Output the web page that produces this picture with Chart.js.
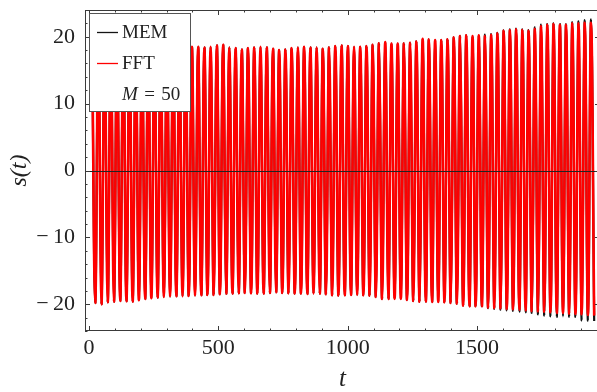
<!DOCTYPE html>
<html><head><meta charset="utf-8">
<script src="https://cdn.jsdelivr.net/npm/chart.js@4.4.1/dist/chart.umd.min.js"></script>
<style>
html,body{margin:0;padding:0;overflow:hidden;background:#fff;width:597px;height:392px}
#wrap{width:612px;height:392px;position:relative}
</style></head>
<body><div id="wrap"><canvas id="c" width="612" height="392"></canvas></div>
<script>
// ---- data ----
const cycle = 24.1;          // length of one oscillation in t
const firstPeakT = 12.45;    // t of first maximum
const firstTroughT = 24.5;   // t of first minimum

const fftPeaks = [19.8,19.6,19.4,19.2,19.0,18.9,18.8,18.7,18.7,18.6,18.6,18.5,18.5,18.5,18.4,18.4,
  18.5,18.5,
  18.4,18.5,18.7,18.8,18.4,18.3,18.1,18.3,18.4,18.5,18.4,18.2,18.0,18.1,18.3,18.4,18.5,18.4,18.4,18.2,18.4,18.6,18.7,18.6,18.5,18.5,18.6,18.8,19.0,19.2,
  19.0,19.0,19.0,19.1,19.3,19.7,19.6,19.5,19.5,19.6,19.9,20.1,20.2,20.1,20.2,20.1,20.3,20.5,20.9,21.0,21.1,21.0,20.9,21.2,21.6,21.8,21.9,21.8,21.8,22.0,22.0,22.1,22.1];
const memPeaks = [19.8,19.6,19.4,19.2,19.0,18.9,18.8,18.7,18.7,18.6,18.6,18.5,18.5,18.5,18.4,18.4,
  18.5,18.5,
  18.4,18.5,18.7,18.8,18.4,18.3,18.1,18.3,18.4,18.5,18.4,18.2,18.0,18.1,18.3,18.4,18.5,18.4,18.4,18.2,18.4,18.6,18.7,18.6,18.5,18.5,18.6,18.8,19.0,19.2,
  19.0,19.0,19.0,19.1,19.3,19.7,19.6,19.5,19.5,19.6,19.9,20.1,20.2,20.1,20.2,20.3,20.4,20.6,20.95,21.1,21.2,21.1,21.0,21.4,21.8,21.9,22.0,21.9,21.9,22.2,22.3,22.5,22.6];
const fftTroughs = [-19.8,-20.0,-19.7,-19.6,-19.5,-19.55,-19.6,-19.4,-19.2,-19.1,-19.0,-18.9,-18.85,-18.8,-18.8,-18.75,-18.7,-18.65,-18.6,-18.6,
  -18.5,-18.4,-18.4,-18.35,-18.3,-18.35,-18.4,-18.4,-18.3,-18.2,-18.3,-18.35,-18.4,-18.4,-18.45,-18.4,-18.4,-18.5,-18.65,-18.7,
  -18.65,-18.6,-18.6,-18.65,-18.7,-18.9,-19.2,-19.2,-19.2,-19.2,-19.35,-19.5,-19.6,-19.6,-19.65,-19.65,-19.7,-19.8,-19.9,-20.2,
  -20.3,-20.3,-20.3,-20.5,-20.55,-20.6,-20.7,-20.75,-20.8,-20.9,-21.0,-21.05,-21.1,-21.2,-21.3,-21.3,-21.4,-21.45,-21.5,-21.6,-21.7];
const memTroughs = [-19.8,-20.0,-19.7,-19.6,-19.5,-19.55,-19.6,-19.4,-19.2,-19.1,-19.0,-18.9,-18.85,-18.8,-18.8,-18.75,-18.7,-18.65,-18.6,-18.6,
  -18.5,-18.4,-18.4,-18.35,-18.3,-18.35,-18.4,-18.4,-18.3,-18.2,-18.3,-18.35,-18.4,-18.4,-18.45,-18.4,-18.4,-18.5,-18.65,-18.7,
  -18.65,-18.6,-18.6,-18.65,-18.7,-18.9,-19.2,-19.2,-19.2,-19.2,-19.35,-19.5,-19.6,-19.6,-19.65,-19.65,-19.7,-19.8,-19.9,-20.2,
  -20.3,-20.3,-20.3,-20.6,-20.7,-20.8,-20.9,-21.0,-21.1,-21.2,-21.3,-21.5,-21.7,-21.8,-21.9,-21.8,-21.85,-21.9,-22.4,-22.45,-22.5];

const xTicks = [0, 500, 1000, 1500];
const yTicks = [-20, -10, 0, 10, 20];
const xMinor = 100, yMinor = 2;
const seriesLabels = ['MEM', 'FFT'];
const noteSymbol = 'M', noteValue = '50';

// ---- build series ----
function series(peaks, troughs){
  const pts = [];
  for (let i = 0; i < peaks.length; i++){
    pts.push({x: firstPeakT + i*cycle, y: peaks[i]});
    if (i < troughs.length) pts.push({x: firstTroughT + i*cycle, y: troughs[i]});
  }
  return pts;
}
const fmt = v => v < 0 ? '\u2212\u2009' + Math.abs(v) : String(v);
const SERIF = "'Liberation Serif','DejaVu Serif',serif";
const FRAME = '#3a3a3a';

const framePlugin = {
  id: 'frame',
  afterDatasetsDraw(chart){
    const {ctx, chartArea:{left,right}, scales:{y}} = chart;
    const y0 = Math.round(y.getPixelForValue(0)) + 0.5;
    ctx.save();
    ctx.strokeStyle = '#222'; ctx.lineWidth = 1.2;
    ctx.beginPath(); ctx.moveTo(left, y0); ctx.lineTo(right, y0); ctx.stroke();
    ctx.restore();
  },
  afterDraw(chart){
    const {ctx, chartArea:{left,right,top,bottom}, scales:{x,y}} = chart;
    ctx.save();
    ctx.strokeStyle = FRAME; ctx.lineWidth = 1;
    ctx.strokeRect(left + 0.5, top + 0.5, right - left - 1, bottom - top - 1);
    ctx.beginPath();
    for (let v = 0; v <= x.max; v += xMinor){
      const px = Math.round(x.getPixelForValue(v)) + 0.5;
      const L = (v % 500 === 0) ? 5 : 2.5;
      ctx.moveTo(px, bottom); ctx.lineTo(px, bottom - L);
      ctx.moveTo(px, top); ctx.lineTo(px, top + L);
    }
    for (let v = -24; v <= 24; v += yMinor){
      const py = Math.round(y.getPixelForValue(v)) + 0.5;
      const L = (v % 10 === 0) ? 5 : 2.5;
      ctx.moveTo(left, py); ctx.lineTo(left + L, py);
      ctx.moveTo(right, py); ctx.lineTo(right - L, py);
    }
    ctx.stroke();

    // legend box
    const bx = 89.5, by = 13.5, bw = 101, bh = 98;
    ctx.fillStyle = '#fff'; ctx.fillRect(bx, by, bw, bh);
    ctx.strokeStyle = '#555'; ctx.lineWidth = 1; ctx.strokeRect(bx, by, bw, bh);
    const ds = chart.data.datasets;
    const rows = [32, 63, 94];
    ctx.font = '19px ' + SERIF; ctx.textBaseline = 'middle'; ctx.textAlign = 'left';
    for (let i = 0; i < 2; i++){
      ctx.strokeStyle = ds[i].borderColor; ctx.lineWidth = 1.3;
      ctx.beginPath(); ctx.moveTo(97, rows[i] + 0.5); ctx.lineTo(118, rows[i] + 0.5); ctx.stroke();
      ctx.fillStyle = '#222'; ctx.fillText(ds[i].label, 122, rows[i] + 1);
    }
    ctx.font = 'italic 19px ' + SERIF;
    ctx.fillText(noteSymbol, 122, rows[2] + 1);
    const w = ctx.measureText(noteSymbol).width;
    ctx.font = '19px ' + SERIF;
    ctx.fillText('\u2004=\u2004' + noteValue, 122 + w, rows[2] + 1);
    ctx.restore();
  }
};

new Chart(document.getElementById('c'), {
  type: 'line',
  data: { datasets: [
    { label: seriesLabels[0], data: series(memPeaks, memTroughs), borderColor: '#141414',
      borderWidth: 2.2, pointRadius: 0, tension: 0.4, order: 2 },
    { label: seriesLabels[1], data: series(fftPeaks, fftTroughs), borderColor: '#ff0000',
      borderWidth: 2.6, pointRadius: 0, tension: 0.4, order: 1 }
  ]},
  options: {
    responsive: false, animation: false, devicePixelRatio: 1,
    layout: { padding: { top: 10, right: 12, left: 0, bottom: 0 } },
    plugins: { legend: { display: false }, tooltip: { enabled: false } },
    scales: {
      x: { type: 'linear', min: -15, max: 1975,
        afterFit(s){ s.height = 61; s.paddingLeft = 0; s.paddingRight = 0; },
        afterBuildTicks(s){ s.ticks = xTicks.map(v => ({value: v})); },
        grid: { display: false, drawTicks: false }, border: { display: false },
        ticks: { padding: 4, autoSkip: false, maxRotation: 0, color: '#222',
          font: { family: SERIF, size: 22 }, callback: v => fmt(v) },
        title: { display: true, text: 't', color: '#222', padding: {top:0,bottom:0},
          font: { family: SERIF, size: 25, style: 'italic', lineHeight: 1 } } },
      y: { type: 'linear', min: -24, max: 24,
        afterFit(s){ s.width = 85; s.paddingTop = 0; s.paddingBottom = 0; },
        afterBuildTicks(s){ s.ticks = yTicks.map(v => ({value: v})); },
        grid: { display: false, drawTicks: false }, border: { display: false },
        ticks: { padding: 10, autoSkip: false, color: '#222',
          font: { family: SERIF, size: 22 }, callback: v => fmt(v) },
        title: { display: true, text: 's(t)', color: '#222', padding: {top: 8, bottom: 0},
          font: { family: SERIF, size: 24, style: 'italic', lineHeight: 1 } } }
    }
  },
  plugins: [framePlugin]
});
</script>
</body></html>
